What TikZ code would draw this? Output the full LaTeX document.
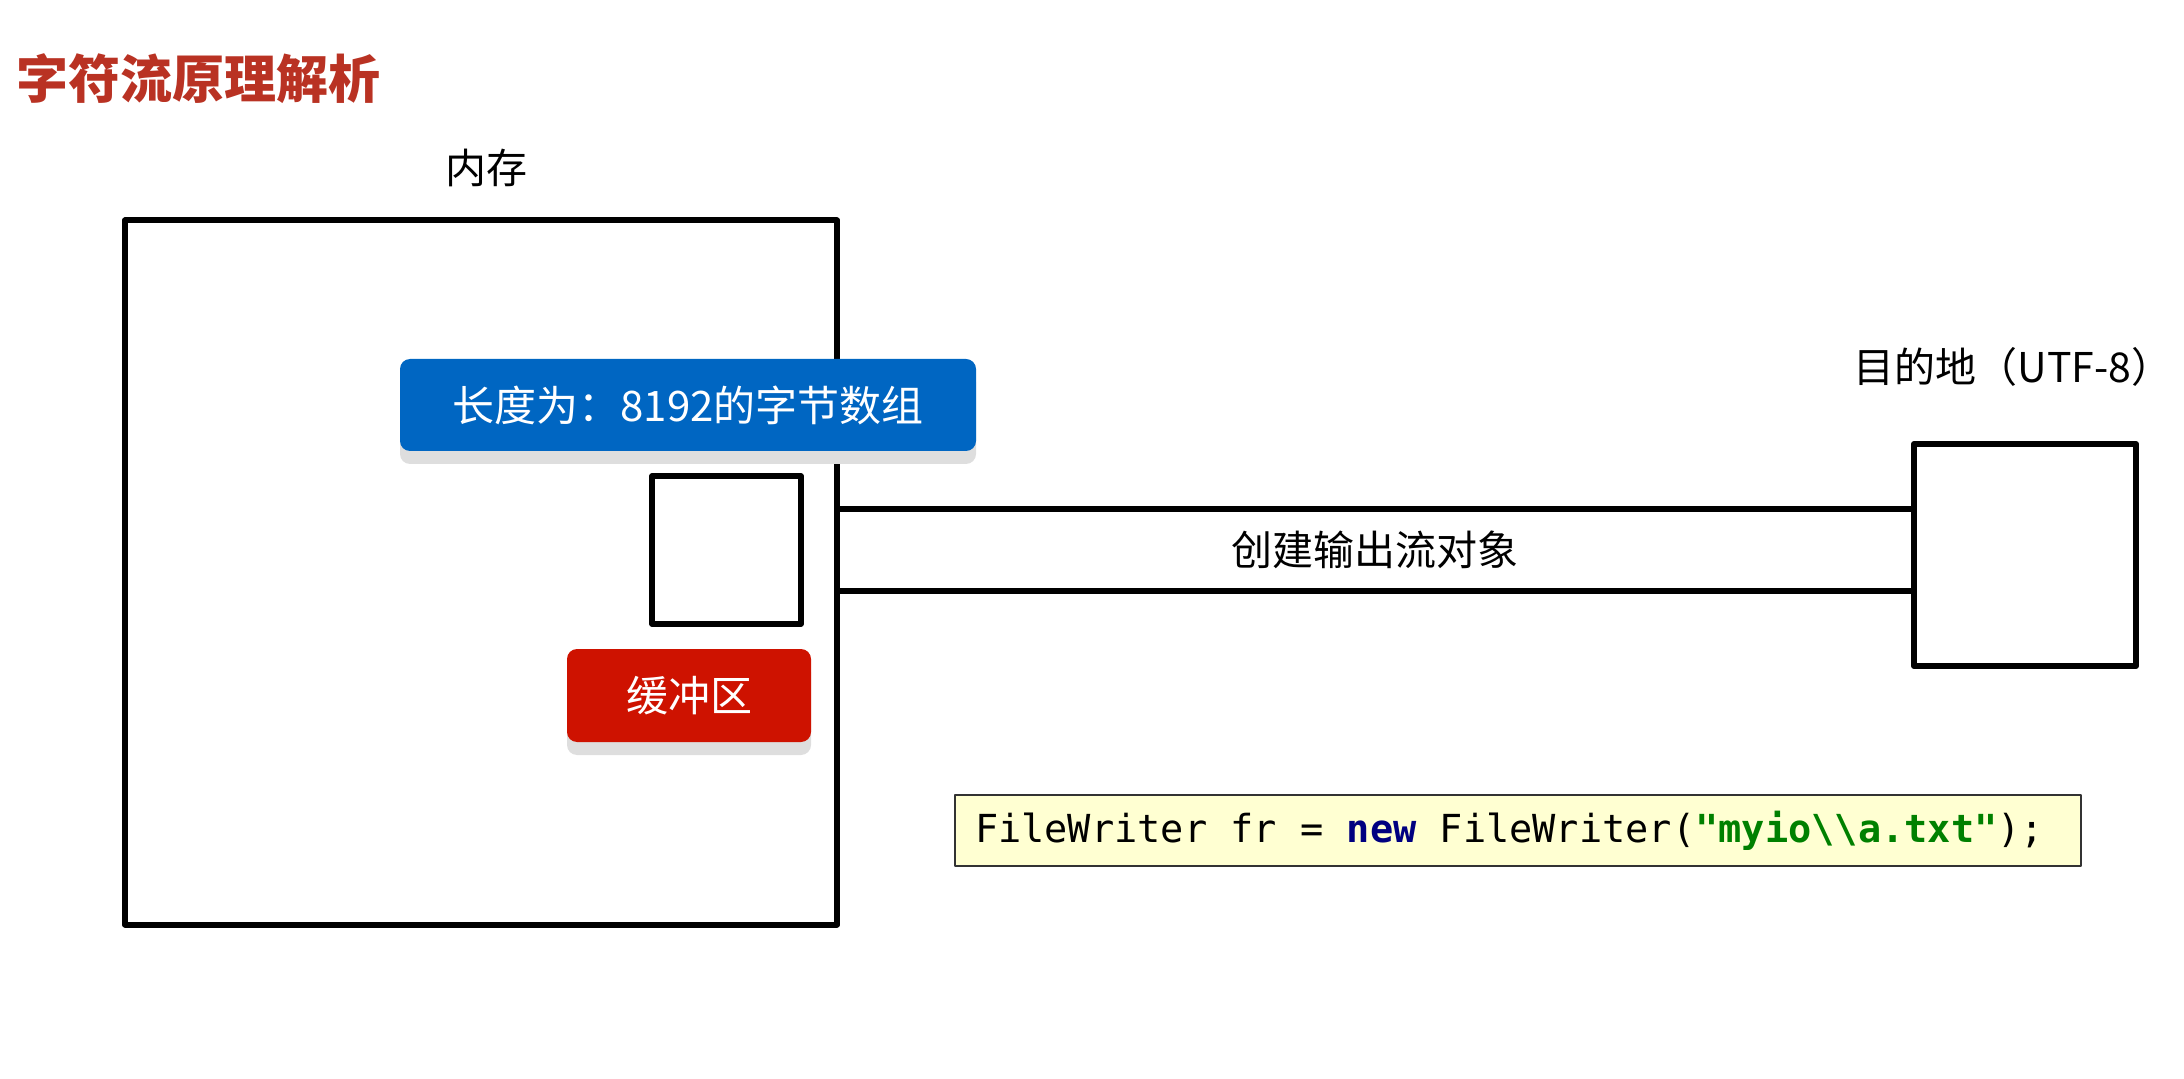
\documentclass[tikz,border=0pt]{standalone}
\usepackage{fontspec}
\setmainfont{Noto Sans CJK SC}
\setmonofont{DejaVu Sans Mono}
\usetikzlibrary{shadows}
\definecolor{titlered}{RGB}{185,50,35}
\definecolor{tagblue}{RGB}{0,102,194}
\definecolor{tagred}{RGB}{206,18,0}
\definecolor{codebg}{RGB}{255,255,210}
\definecolor{kwblue}{RGB}{0,0,128}
\definecolor{strgreen}{RGB}{0,128,0}
\newcommand{\codegap}{\hbox to 0.602em{}}
\tikzset{
  membox/.style={draw, line width=3pt, minimum width=356pt, minimum height=352pt, inner sep=0pt},
  cellbox/.style={draw, line width=2.6pt, minimum width=74.5pt, minimum height=74pt, inner sep=0pt},
  tag/.style={rounded corners=5pt, text=white, inner sep=0pt, font=\fontsize{21}{24}\selectfont,
    drop shadow={shadow xshift=0pt, shadow yshift=-6.5pt, fill=black!13, opacity=1}},
  caption/.style={inner sep=0pt, font=\fontsize{20.5}{24}\selectfont},
}
\begin{document}
\begin{tikzpicture}[x=0.5pt, y=-0.5pt, line join=round]
  \useasboundingbox (0,0) rectangle (2184,1079);
  \node[anchor=west, inner sep=0pt, text=titlered, font=\fontsize{26}{30}\selectfont\bfseries] (title) at (16,79) {字符流原理解析};
  % memory side
  \node[membox] (mem) at (481,572.5) {};
  \node[caption] (memlabel) at (486,168) {内存};
  \node[tag, fill=tagblue, minimum width=288pt, minimum height=46pt] (array) at (688,405) {长度为：8192的字节数组};
  \node[cellbox] (cell) at (726.5,550) {};
  \node[tag, fill=tagred, minimum width=122pt, minimum height=46.5pt] (buffer) at (689,695.5) {缓冲区};
  % destination side
  \node[draw, line width=3pt, minimum size=111pt, inner sep=0pt] (dest) at (2025,555) {};
  \node[caption] (destlabel) at (2013,367) {目的地（UTF-8）};
  \coordinate (pipetop) at (0,509);
  \coordinate (pipebot) at (0,591);
  \draw[line width=3pt] (mem.east |- pipetop) -- (dest.west |- pipetop);
  \draw[line width=3pt] (mem.east |- pipebot) -- (dest.west |- pipebot);
  \node[caption] (pipelabel) at (1375,550) {创建输出流对象};
  % code line
  \node[draw=black!80, line width=1pt, fill=codebg, inner xsep=10pt, inner ysep=0pt,
        text width=543pt, minimum height=35.5pt, align=left,
        font=\ttfamily\fontsize{19.3}{22}\selectfont] (code) at (1518,830.5)
    {FileWriter\codegap fr\codegap=\codegap{\bfseries\color{kwblue}new}\codegap FileWriter({\bfseries\color{strgreen}"myio\textbackslash\textbackslash a.txt"});};
\end{tikzpicture}
\end{document}
